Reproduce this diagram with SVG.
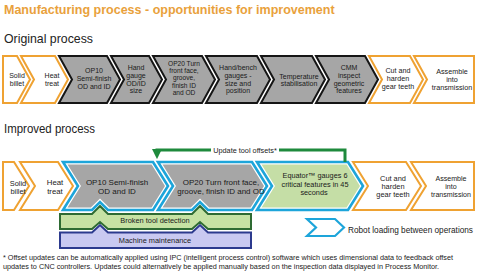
<svg xmlns="http://www.w3.org/2000/svg" width="480" height="277" viewBox="0 0 480 277">
<style>
.o{fill:#fff;stroke:#EFA232;stroke-width:2;stroke-linejoin:miter}
.g{fill:#A6A6A6;stroke:#151515;stroke-width:2;stroke-linejoin:miter}
.b{fill:#fff;stroke:#1DA5DA;stroke-width:2.6;stroke-linejoin:miter}
.gi{fill:#A6A6A6}
.ei{fill:#C5DEA6}
.f{font-family:"Liberation Sans",Arial,sans-serif;fill:#222}
.t{font-family:"Liberation Sans",Arial,sans-serif;font-size:7px;fill:#1a1a1a;text-anchor:middle}
.t8{font-family:"Liberation Sans",Arial,sans-serif;font-size:8px;fill:#1a1a1a;text-anchor:middle}
.conn{fill:none;stroke:#1E8A3C;stroke-width:3}
</style>
<defs>
<marker id="ah" viewBox="0 0 10 10" refX="5" refY="5" markerWidth="3.4" markerHeight="3.4" orient="auto" markerUnits="strokeWidth">
<path d="M0,0 L10,5 L0,10 Z" fill="#1E8A3C"/>
</marker>
</defs>
<rect width="480" height="277" fill="#fff"/>

<text class="f" x="4" y="14" font-size="12.5" font-weight="bold" style="fill:#E9A13B">Manufacturing process - opportunities for improvement</text>
<text class="f" x="4" y="43" font-size="13" textLength="89" lengthAdjust="spacingAndGlyphs">Original process</text>
<text class="f" x="4" y="133" font-size="13" textLength="91" lengthAdjust="spacingAndGlyphs">Improved process</text>

<!-- Original process row -->
<g id="o-solid"><path class="o" d="M3,56 H17 L30,79.5 L17,103 H3 Z"/>
<text class="t"><tspan x="17" y="78.1">Solid</tspan><tspan x="17" y="85.9">billet</tspan></text></g>
<g id="o-heat"><path class="o" d="M21,56 H55 L68,79.5 L55,103 H21 L34,79.5 Z"/>
<text class="t"><tspan x="52" y="78.1">Heat</tspan><tspan x="52" y="85.9">treat</tspan></text></g>
<g id="o-op10"><path class="g" d="M59,56 H107 L120,79.5 L107,103 H59 L72,79.5 Z"/>
<text class="t"><tspan x="94" y="73.2">OP10</tspan><tspan x="94" y="81">Semi-finish</tspan><tspan x="94" y="88.8">OD and ID</tspan></text></g>
<g id="o-hand"><path class="g" d="M111,56 H149 L162,79.5 L149,103 H111 L124,79.5 Z"/>
<text class="t"><tspan x="136" y="70.4">Hand</tspan><tspan x="136" y="78">gauge</tspan><tspan x="136" y="85.6">OD/ID</tspan><tspan x="136" y="93.2">size</tspan></text></g>
<g id="o-op20"><path class="g" d="M153,56 H202 L215,79.5 L202,103 H153 L166,79.5 Z"/>
<text class="t" style="font-size:6.6px"><tspan x="184" y="65.6">OP20 Turn</tspan><tspan x="184" y="73">front face,</tspan><tspan x="184" y="80.4">groove,</tspan><tspan x="184" y="87.8">finish ID</tspan><tspan x="184" y="95.2">and OD</tspan></text></g>
<g id="o-bench"><path class="g" d="M206,56 H257 L270,79.5 L257,103 H206 L219,79.5 Z"/>
<text class="t"><tspan x="238" y="70.4">Hand/bench</tspan><tspan x="238" y="78">gauges -</tspan><tspan x="238" y="85.6">size and</tspan><tspan x="238" y="93.2">position</tspan></text></g>
<g id="o-temp"><path class="g" d="M261,56 H312 L325,79.5 L312,103 H261 L274,79.5 Z"/>
<text class="t"><tspan x="299" y="78.6">Temperature</tspan><tspan x="299" y="86.4">stabilisation</tspan></text></g>
<g id="o-cmm"><path class="g" d="M316,56 H365 L378,79.5 L365,103 H316 L329,79.5 Z"/>
<text class="t"><tspan x="349" y="70.4">CMM</tspan><tspan x="349" y="78">inspect</tspan><tspan x="349" y="85.6">geometric</tspan><tspan x="349" y="93.2">features</tspan></text></g>
<g id="o-cut"><path class="o" d="M369,56 H410 L423,79.5 L410,103 H369 L382,79.5 Z"/>
<text class="t" style="font-size:7.2px"><tspan x="398" y="73.2">Cut and</tspan><tspan x="398" y="81">harden</tspan><tspan x="398" y="88.8">gear teeth</tspan></text></g>
<g id="o-assemble"><path class="o" d="M414,56 H474 V103 H414 L427,79.5 Z"/>
<text class="t" style="font-size:7.2px"><tspan x="452" y="74">Assemble</tspan><tspan x="452" y="81.8">into</tspan><tspan x="452" y="89.6">transmission</tspan></text></g>

<!-- Improved process row -->
<g id="i-solid"><path class="o" d="M3,162 H14 L29,186 L14,210 H3 Z"/>
<text class="t" style="font-size:7.4px"><tspan x="18" y="185.6">Solid</tspan><tspan x="18" y="194">billet</tspan></text></g>
<g id="i-heat"><path class="o" d="M20,162 H58 L73,186 L58,210 H20 L35,186 Z"/>
<text class="t" style="font-size:7.8px"><tspan x="55" y="185">Heat</tspan><tspan x="55" y="193.6">treat</tspan></text></g>
<g id="i-op10"><path class="b" d="M63,162 H153 L168,186 L153,210 H108 L100,202 L92,210 H63 L78,186 Z"/>
<path class="gi" d="M67.5,164.5 H151.6 L165,186 L151.6,207.5 H109.2 L100,198.4 L90.8,207.5 H67.5 L81,186 Z"/>
<text class="t8"><tspan x="117" y="184.6">OP10 Semi-finish</tspan><tspan x="117" y="193.8">OD and ID</tspan></text></g>
<g id="i-op20"><path class="b" d="M158,162 H252 L267,186 L252,210 H208 L200,202 L192,210 H158 L173,186 Z"/>
<path class="gi" d="M162.5,164.5 H250.6 L264,186 L250.6,207.5 H209.2 L200,198.4 L190.8,207.5 H162.5 L176,186 Z"/>
<text class="t8"><tspan x="221" y="184.6">OP20 Turn front face,</tspan><tspan x="221" y="193.8">groove, finish ID and OD</tspan></text></g>
<g id="i-equator"><path class="b" d="M257,162 H348 L363,186 L348,210 H257 L272,186 Z"/>
<path class="ei" d="M261.5,164.5 H346.6 L360,186 L346.6,207.5 H261.5 L275,186 Z"/>
<text class="t" style="font-size:7.3px"><tspan x="315" y="178">Equator™ gauges 6</tspan><tspan x="315" y="186.6">critical features in 45</tspan><tspan x="314" y="195.2">seconds</tspan></text></g>
<g id="i-cut"><path class="o" d="M353,162 H406 L421,186 L406,210 H353 L368,186 Z"/>
<text class="t" style="font-size:7.4px"><tspan x="393" y="180.5">Cut and</tspan><tspan x="393" y="188.9">harden</tspan><tspan x="393" y="197.3">gear teeth</tspan></text></g>
<g id="i-assemble"><path class="o" d="M411,162 H474 V210 H411 L426,186 Z"/>
<text class="t" style="font-size:7.1px"><tspan x="451" y="181.4">Assemble</tspan><tspan x="451" y="189.2">into</tspan><tspan x="451" y="197">transmission</tspan></text></g>

<!-- Bars -->
<g id="broken-tool">
<path d="M60,214 H92 L100,206 L108,214 H192 L200,206 L208,214 H251 V229 H208 L200,222 L192,229 H108 L100,222 L92,229 H60 Z" fill="#C6E2A4" stroke="#2E6B33" stroke-width="2"/>
<text class="t" x="155" y="223" style="font-size:7.4px">Broken tool detection</text>
</g>
<g id="maintenance">
<path d="M60,232.5 H92 L100,225 L108,232.5 H192 L200,225 L208,232.5 H251 V248 H60 Z" fill="#C9C9F1" stroke="#2C3A8E" stroke-width="2"/>
<text class="t" x="155" y="243" style="font-size:7.4px">Machine maintenance</text>
</g>

<!-- Legend -->
<g id="legend">
<path d="M307,219 H335 L344,227.5 L335,236 H307 L316,227.5 Z" fill="#fff" stroke="#1DA5DA" stroke-width="2.2"/>
<text class="f" x="348" y="233" font-size="8.2" textLength="125" lengthAdjust="spacingAndGlyphs">Robot loading between operations</text>
</g>

<!-- Connectors -->
<g id="connectors">
<path class="conn" d="M345,162 V150 H157 V154" marker-end="url(#ah)"/>
<rect x="211" y="145.5" width="68" height="9" fill="#fff"/>
<text class="t" x="245" y="152.6" style="font-size:7.3px">Update tool offsets*</text>
</g>

<!-- Footnote -->
<text class="f" x="3" y="260" font-size="6.8" fill="#333" textLength="450" lengthAdjust="spacingAndGlyphs">* Offset updates can be automatically applied using IPC (intelligent process control) software which uses dimensional data to feedback offset</text>
<text class="f" x="3" y="269" font-size="6.8" fill="#333" textLength="436" lengthAdjust="spacingAndGlyphs">updates to CNC controllers. Updates could alternatively be applied manually based on the inspection data displayed in Process Monitor.</text>
</svg>
